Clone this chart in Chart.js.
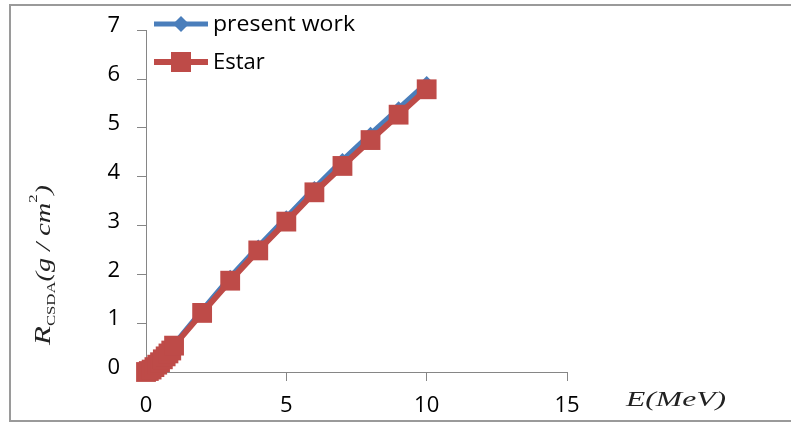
<!DOCTYPE html>
<html>
<head>
<meta charset="utf-8">
<script src="https://cdn.jsdelivr.net/npm/chart.js@4/dist/chart.umd.min.js"></script>
<style>
  html, body { margin:0; padding:0; background:#fff; }
  #wrap { width:791px; height:423px; position:relative; }
</style>
</head>
<body>
<div id="wrap"><canvas id="c" width="791" height="423"></canvas></div>
<script>
/* Electron CSDA range vs energy — present work against ESTAR */

var energies    = [0, 0.1, 0.2, 0.3, 0.4, 0.5, 0.6, 0.7, 0.8, 0.9, 1, 2, 3, 4, 5, 6, 7, 8, 9, 10];
var presentWork = [0, 0.02, 0.06, 0.11, 0.16, 0.22, 0.28, 0.34, 0.40, 0.46, 0.57, 1.27, 1.95, 2.57, 3.17, 3.77, 4.34, 4.88, 5.40, 5.92];
var estar       = [0, 0.02, 0.05, 0.10, 0.15, 0.20, 0.26, 0.32, 0.38, 0.44, 0.54, 1.21, 1.87, 2.49, 3.08, 3.68, 4.22, 4.75, 5.27, 5.79];
var seriesNames = ['present work', 'Estar'];
var xTicks = [0, 5, 10, 15];
var yTicks = [0, 1, 2, 3, 4, 5, 6, 7];

var BLUE = '#4A7EBB';
var RED  = '#BE4B48';
var AXIS = '#868686';
var TICK_FONT = '"Open Sans", "Liberation Sans", sans-serif';

function pts(ys){
  return energies.map(function(e, i){ return {x:e, y:ys[i]}; });
}

// frame, legend and axis titles drawn on top of the chart
var decorPlugin = {
  id: 'decor',
  afterDraw: function(chart){
    var ctx = chart.ctx;
    ctx.save();

    // outer gray frame (right side runs off the picture)
    ctx.strokeStyle = '#9A9A9A';
    ctx.lineWidth = 2;
    ctx.beginPath();
    ctx.moveTo(795, 5); ctx.lineTo(10, 5); ctx.lineTo(10, 421); ctx.lineTo(795, 421);
    ctx.stroke();

    // legend, inside top-left of the plot
    var items = [
      {name: seriesNames[0], color: BLUE, y: 24, style: 'diamond'},
      {name: seriesNames[1], color: RED,  y: 62, style: 'square'}
    ];
    items.forEach(function(it){
      ctx.strokeStyle = it.color;
      ctx.lineWidth = it.style === 'square' ? 6 : 5;
      ctx.beginPath();
      ctx.moveTo(154, it.y); ctx.lineTo(208, it.y);
      ctx.stroke();
      ctx.fillStyle = it.color;
      if(it.style === 'square'){
        ctx.fillRect(171, it.y - 10, 20, 20);
      } else {
        ctx.beginPath();
        ctx.moveTo(181, it.y - 8); ctx.lineTo(189, it.y);
        ctx.lineTo(181, it.y + 8); ctx.lineTo(173, it.y);
        ctx.closePath(); ctx.fill();
      }
      ctx.fillStyle = '#000';
      ctx.font = '22px ' + TICK_FONT;
      ctx.textAlign = 'left';
      ctx.textBaseline = 'middle';
      var tw = ctx.measureText(it.name).width;
      ctx.save();
      ctx.translate(213, it.y + 1);
      if(it.name === seriesNames[0]) ctx.scale(142 / tw, 1);
      ctx.fillText(it.name, 0, 0);
      ctx.restore();
    });

    // x title, right of the axis
    ctx.fillStyle = '#222';
    ctx.font = 'italic 22px "Liberation Serif", "DejaVu Serif", serif';
    ctx.textAlign = 'left';
    ctx.textBaseline = 'middle';
    var xt = 'E(MeV)';
    var w = ctx.measureText(xt).width;
    ctx.save();
    ctx.translate(626, 400);
    ctx.scale(100 / w, 1);
    ctx.fillText(xt, 0, 0);
    ctx.restore();

    // y title, rotated: R_CSDA(g/cm^2), squeezed to the reference length
    var parts = [
      {t:'R', f:'italic 24px "Liberation Serif", serif', dy:8},
      {t:'CSDA', f:'13px "Liberation Serif", serif', dy:13},
      {t:'(g / cm', f:'italic 22px "Liberation Serif", serif', dy:8},
      {t:'2', f:'13px "Liberation Serif", serif', dy:-5},
      {t:')', f:'italic 22px "Liberation Serif", serif', dy:8}
    ];
    var total = 0;
    parts.forEach(function(p){ ctx.font = p.f; p.w = ctx.measureText(p.t).width; total += p.w; });
    ctx.save();
    ctx.translate(42, 345);
    ctx.rotate(-Math.PI / 2);
    ctx.scale(160 / total, 1);
    ctx.textBaseline = 'alphabetic';
    var x = 0;
    parts.forEach(function(p){ ctx.font = p.f; ctx.fillText(p.t, x, p.dy); x += p.w; });
    ctx.restore();

    ctx.restore();
  }
};

new Chart(document.getElementById('c'), {
  type: 'line',
  data: {
    datasets: [
      {
        label: seriesNames[0],
        data: pts(presentWork),
        borderColor: BLUE,
        backgroundColor: BLUE,
        borderWidth: 5,
        pointStyle: 'rectRot',
        pointRadius: 7,
        pointBorderWidth: 0,
        tension: 0,
        clip: false,
        order: 1
      },
      {
        label: seriesNames[1],
        data: pts(estar),
        borderColor: RED,
        backgroundColor: RED,
        borderWidth: 6,
        pointStyle: 'rect',
        pointRadius: 14,
        pointBorderWidth: 0,
        tension: 0,
        clip: false,
        order: 0
      }
    ]
  },
  options: {
    responsive: false,
    animation: false,
    layout: { padding: { top: 24, right: 224, left: 0, bottom: 0 } },
    plugins: { legend: { display: false }, tooltip: { enabled: false } },
    scales: {
      x: {
        type: 'linear',
        min: 0, max: 15,
        afterBuildTicks: function(s){ s.ticks = xTicks.map(function(v){ return {value:v}; }); },
        afterFit: function(s){ s.height = 51; },
        grid: { drawOnChartArea: false, drawTicks: true, tickLength: 9, color: AXIS },
        border: { color: AXIS, width: 1 },
        ticks: { color: '#000', padding: 12, maxRotation: 0, font: { family: TICK_FONT, size: 22 } }
      },
      y: {
        type: 'linear',
        min: 0, max: 7,
        afterBuildTicks: function(s){ s.ticks = yTicks.map(function(v){ return {value:v}; }); },
        afterFit: function(s){ s.width = 146; },
        grid: { drawOnChartArea: false, drawTicks: true, tickLength: 9, color: AXIS },
        border: { color: AXIS, width: 1 },
        ticks: { color: '#000', padding: 17, labelOffset: -4, font: { family: TICK_FONT, size: 22 } }
      }
    }
  },
  plugins: [decorPlugin]
});
</script>
</body>
</html>
